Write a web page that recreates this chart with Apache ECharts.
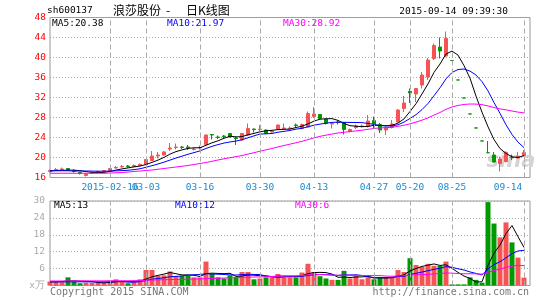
<!DOCTYPE html>
<html><head><meta charset="utf-8">
<script src="https://cdn.jsdelivr.net/npm/echarts@6/dist/echarts.min.js"></script>
<style>html,body{margin:0;padding:0;background:#fff}#c{width:545px;height:300px}</style>
</head><body><div id="c"></div>
<script>
const dates = ['2015-02-02','2015-02-03','2015-02-04','2015-02-05','2015-02-06','2015-02-09','2015-02-10','2015-02-11','2015-02-12','2015-02-13',
'2015-02-16','2015-02-17','2015-02-25','2015-02-26','2015-02-27','2015-03-02','2015-03-03','2015-03-04','2015-03-05','2015-03-06',
'2015-03-09','2015-03-10','2015-03-11','2015-03-12','2015-03-13','2015-03-16','2015-03-17','2015-03-18','2015-03-19','2015-03-20',
'2015-03-23','2015-03-24','2015-03-25','2015-03-26','2015-03-27','2015-03-30','2015-03-31','2015-04-01','2015-04-02','2015-04-03',
'2015-04-07','2015-04-08','2015-04-09','2015-04-10','2015-04-13','2015-04-14','2015-04-15','2015-04-16','2015-04-17','2015-04-20',
'2015-04-21','2015-04-22','2015-04-23','2015-04-24','2015-04-27','2015-04-28','2015-04-29','2015-04-30','2015-05-04','2015-05-05',
'2015-05-20','2015-05-21','2015-05-22','2015-05-25','2015-05-26','2015-05-27','2015-05-28','2015-08-25','2015-08-26','2015-08-27',
'2015-08-28','2015-08-31','2015-09-01','2015-09-02','2015-09-07','2015-09-08','2015-09-09','2015-09-10','2015-09-11','2015-09-14'];

const opens = [17.2,17.5,17.6,17.8,17.4,17.0,16.4,16.8,17.1,17.3,
17.4,17.9,18.1,18.3,18.2,18.4,18.6,19.4,20.3,20.5,
21.7,22.0,22.1,22.1,21.6,21.9,22.6,24.6,24.1,24.3,
24.8,23.9,23.5,24.5,25.7,25.6,25.5,25.1,25.7,25.8,
25.8,26.5,25.8,26.1,28.2,28.6,27.7,26.7,27.1,27.0,
25.2,26.0,26.2,26.2,27.4,26.6,25.5,26.0,27.1,29.8,
33.2,32.7,34.5,36.1,39.8,42.1,40.3,39.41,35.51,31.91,
28.71,25.91,23.31,20.96,20.5,18.8,19.2,20.0,19.9,20.4];
const closes = [17.4,17.6,17.7,17.5,17.2,16.8,16.7,17.0,17.2,17.4,
17.8,18.0,18.2,18.2,18.4,18.6,19.6,20.3,20.5,21.1,
21.9,22.1,22.0,22.0,21.7,22.0,24.5,24.5,24.0,24.2,
24.1,23.8,24.8,25.8,25.6,25.7,24.8,25.3,26.5,25.9,
25.9,26.4,26.6,28.8,28.7,27.8,26.8,26.8,27.0,25.6,
25.6,26.3,26.3,27.3,26.7,25.5,26.0,26.7,29.5,30.9,
32.9,33.8,36.5,39.5,42.4,41.3,43.8,39.4,35.5,31.9,
28.7,25.9,23.3,20.95,19.1,19.7,21.0,19.95,20.25,21.0];
const lows = [17.0,17.3,17.4,17.3,17.0,16.6,16.2,16.7,17.0,17.2,
17.3,17.8,18.0,18.0,18.1,18.3,18.5,19.3,19.8,20.4,
21.3,21.6,21.7,21.5,21.4,21.6,22.4,23.6,23.7,23.9,
24.0,22.5,23.3,24.3,25.0,25.3,24.7,25.0,25.6,25.5,
25.6,26.0,25.6,26.0,27.9,27.7,26.6,25.8,26.6,24.6,
25.0,25.7,26.0,26.0,25.9,24.9,24.5,25.8,27.0,29.1,
30.9,31.1,33.8,35.5,39.5,39.8,40.1,39.4,35.5,31.9,
28.7,25.9,23.3,20.95,19.0,17.2,19.0,19.5,19.8,20.2];
const highs = [17.6,17.9,18.0,17.9,17.6,17.1,16.8,17.1,17.4,17.5,
17.9,18.3,18.5,18.5,18.6,18.8,19.7,21.3,21.1,21.3,
22.9,22.8,22.3,22.5,22.0,22.4,24.6,24.7,24.4,24.5,
24.9,24.2,24.9,26.8,25.8,26.5,25.6,25.5,26.6,26.8,
26.2,26.8,26.8,29.2,30.1,28.7,27.8,27.0,27.4,27.1,
25.8,26.6,26.6,28.5,28.2,26.9,26.2,27.5,29.7,32.3,
33.8,33.9,37.1,39.9,42.8,44.0,45.2,39.41,35.51,31.91,
28.71,25.91,23.31,23.3,21.1,20.2,21.2,20.6,21.1,21.5];

const ma5 = [17.3,17.4,17.45,17.45,17.48,17.36,17.18,17.04,16.98,17.02,
17.22,17.48,17.72,17.92,18.12,18.28,18.6,19.02,19.48,20.02,
20.68,21.18,21.52,21.82,21.94,21.96,22.44,22.94,23.34,23.84,
24.26,24.12,24.18,24.54,24.82,25.14,25.34,25.44,25.58,25.64,
25.68,26.0,26.26,26.72,27.28,27.66,27.74,27.78,27.42,26.8,
26.36,26.26,26.16,26.22,26.44,26.42,26.36,26.44,26.88,27.72,
29.2,30.76,32.72,34.72,37.02,38.7,40.7,41.28,40.48,38.38,
35.86,32.28,29.06,26.15,23.59,21.79,20.81,20.14,20.0,20.38];
const ma10 = [17.35,17.35,17.35,17.35,17.3,17.3,17.3,17.28,17.26,17.25,
17.29,17.33,17.38,17.45,17.57,17.75,18.04,18.37,18.7,19.07,
19.48,19.89,20.27,20.65,20.98,21.32,21.81,22.23,22.58,22.89,
23.11,23.28,23.56,23.94,24.33,24.7,24.73,24.81,25.06,25.23,
25.41,25.67,25.85,26.15,26.46,26.67,26.87,27.02,27.07,27.04,
27.01,27.0,26.97,26.82,26.62,26.39,26.31,26.3,26.55,27.08,
27.81,28.56,29.58,30.8,32.37,33.95,35.73,37.0,37.6,37.7,
37.28,36.49,35.17,33.32,30.99,28.83,26.55,24.6,23.08,21.97];
const ma30 = [16.85,16.85,16.85,16.85,16.85,16.85,16.85,16.85,16.85,16.85,
16.9,16.95,17.0,17.1,17.2,17.3,17.4,17.5,17.65,17.8,
17.95,18.1,18.25,18.4,18.6,18.8,19.0,19.25,19.5,19.74,
19.96,20.17,20.4,20.68,20.96,21.26,21.53,21.8,22.11,22.4,
22.67,22.95,23.23,23.58,23.92,24.23,24.47,24.69,24.9,25.05,
25.18,25.32,25.46,25.64,25.8,25.92,25.97,26.04,26.23,26.45,
26.74,27.08,27.47,27.92,28.48,29.0,29.64,30.11,30.41,30.61,
30.7,30.68,30.57,30.31,29.99,29.72,29.53,29.3,29.08,28.92];

const volumes = [1.4,1.4,1.2,2.9,1.4,0.8,1.0,1.0,1.0,1.0,
1.4,2.2,1.4,0.8,1.4,2.2,5.5,5.5,3.4,3.6,
5.0,3.4,3.4,3.4,2.9,2.9,8.5,4.2,2.9,2.5,
3.6,2.9,4.8,4.8,2.2,2.5,2.9,2.9,4.1,2.9,
2.9,2.9,4.6,7.7,4.8,3.3,2.5,2.0,2.0,5.2,
2.5,3.4,2.2,2.9,2.2,2.9,2.9,2.9,5.5,4.8,
9.7,7.3,6.6,7.7,7.0,7.0,8.5,0.4,0.4,0.4,
2.9,2.0,1.0,29.6,22.0,17.1,22.4,15.3,9.9,2.8];
const volMa5 = [1.3,1.3,1.4,1.6,1.66,1.54,1.46,1.42,1.04,0.96,
1.08,1.32,1.4,1.36,1.44,1.6,2.26,3.08,3.6,4.04,
4.6,4.18,3.76,3.76,3.62,3.2,4.22,4.38,4.28,4.2,
4.34,3.22,3.34,3.72,3.66,3.44,3.44,3.06,2.92,3.06,
3.14,3.14,3.48,4.2,4.58,4.66,4.58,4.06,2.92,3.0,
2.84,3.02,3.06,3.24,2.64,2.72,2.62,2.76,3.28,3.8,
5.16,6.04,6.78,7.22,7.66,7.12,7.36,6.12,4.66,3.34,
2.52,1.22,1.34,7.18,11.5,14.34,18.42,21.28,17.34,13.5];
const volMa10 = [1.3,1.3,1.3,1.3,1.3,1.3,1.3,1.3,1.3,1.31,
1.31,1.39,1.41,1.2,1.2,1.34,1.79,2.24,2.48,2.74,
3.1,3.22,3.42,3.68,3.83,3.9,4.2,4.07,4.02,3.91,
3.77,3.72,3.86,4.0,3.93,3.89,3.33,3.2,3.32,3.36,
3.29,3.29,3.27,3.56,3.82,3.9,3.86,3.77,3.56,3.79,
3.75,3.8,3.56,3.08,2.82,2.78,2.82,2.91,3.26,3.22,
3.94,4.33,4.77,5.25,5.73,6.14,6.7,6.45,5.94,5.5,
4.82,4.29,3.73,5.92,7.42,8.43,9.82,11.31,12.26,12.5];
const volMa30 = [1.6,1.6,1.6,1.65,1.65,1.65,1.65,1.65,1.65,1.65,
1.7,1.7,1.7,1.7,1.7,1.75,1.85,1.95,2.0,2.05,
2.1,2.15,2.2,2.25,2.3,2.35,2.45,2.5,2.55,2.65,
2.73,2.78,2.9,2.96,2.99,3.04,3.11,3.17,3.27,3.34,
3.39,3.41,3.52,3.75,3.86,3.9,3.8,3.68,3.63,3.69,
3.6,3.6,3.56,3.55,3.52,3.52,3.34,3.29,3.38,3.46,
3.66,3.81,3.87,3.96,4.12,4.27,4.46,4.38,4.25,4.17,
4.17,4.14,4.02,4.75,5.32,5.78,6.45,6.89,7.15,7.07];

const tickDates = ['2015-02-16','2015-03-03','2015-03-16','2015-03-30','2015-04-13','2015-04-27','2015-05-20','2015-08-25','2015-09-14'];
const priceMALabels = ['MA5:20.38','MA10:21.97','MA30:28.92'];
const volMALabels = ['MA5:13','MA10:12','MA30:6'];

const RED = '#f65454', GREEN = '#009900';
const MONO = '"DejaVu Sans Mono", monospace';
const XLBL = '#1a8ad4';

const cats = dates.concat(['']);
const candleData = dates.map((d, i) => [opens[i], closes[i], lows[i], highs[i]]);
function sign(i) {
  if (closes[i] > opens[i]) return 1;
  if (closes[i] < opens[i]) return -1;
  return (i > 0 && closes[i] < closes[i - 1]) ? -1 : 1;
}
const volData = volumes.map((v, i) => ({ value: v, itemStyle: { color: sign(i) > 0 ? RED : GREEN } }));

const hGrid = { show: true, lineStyle: { color: '#aaa', width: 1, type: [1, 2] } };

function lineS(data, color, xi, yi) {
  return { type: 'line', data: data, xAxisIndex: xi, yAxisIndex: yi, showSymbol: false, symbol: 'none',
    lineStyle: { color: color, width: 1 }, itemStyle: { color: color }, silent: true, z: 3, clip: false };
}
// vertical dashed grid lines at the labelled dates, drawn as markLines behind the marks
function vLines(data, xi, yi) {
  return { type: 'line', data: data, xAxisIndex: xi, yAxisIndex: yi, showSymbol: false, symbol: 'none', silent: true, z: 1,
    lineStyle: { opacity: 0 }, itemStyle: { opacity: 0 },
    markLine: { silent: true, symbol: 'none', animation: false, label: { show: false },
      lineStyle: { color: '#aaa', width: 1, type: [5, 3] },
      data: tickDates.map(d => ({ xAxis: d })) } };
}
function txt(x, y, s, color, font, align) {
  return { type: 'text', x: x, y: y, z: 10, style: { text: s, fill: color, font: font, align: align || 'left', verticalAlign: 'middle' } };
}
function fmtX(v) {
  if (tickDates.indexOf(v) < 0) return '';
  if (v === tickDates[0]) return v;
  if (v === tickDates[tickDates.length - 1]) return '{r|' + v.slice(5) + '}';
  return v.slice(5);
}

const chart = echarts.init(document.getElementById('c'), null, { renderer: 'canvas', width: 545, height: 300 });
chart.setOption({
  animation: false,
  backgroundColor: '#fff',
  grid: [
    { left: 50, top: 17.5, width: 480, height: 160, show: true, borderColor: '#999', borderWidth: 1, backgroundColor: 'transparent' },
    { left: 50, top: 201, width: 480, height: 84.5, show: true, borderColor: '#999', borderWidth: 1, backgroundColor: 'transparent' }
  ],
  xAxis: [
    { type: 'category', gridIndex: 0, data: cats, boundaryGap: false,
      axisLine: { show: false }, axisTick: { show: false },
      axisLabel: { interval: 0, hideOverlap: false, showMinLabel: true, showMaxLabel: true,
        color: XLBL, fontFamily: MONO, fontSize: 9.5, margin: 5, formatter: fmtX,
        rich: { r: { color: XLBL, fontFamily: MONO, fontSize: 9.5, padding: [0, 32, 0, 0] } } },
      splitLine: { show: false } },
    { type: 'category', gridIndex: 1, data: cats, boundaryGap: false,
      axisLine: { show: false }, axisTick: { show: false }, axisLabel: { show: false },
      splitLine: { show: false } }
  ],
  yAxis: [
    { type: 'value', gridIndex: 0, min: 16, max: 48, interval: 4,
      axisLine: { show: false }, axisTick: { show: false },
      axisLabel: { color: '#f00', fontFamily: MONO, fontSize: 9.5, margin: 4 },
      splitLine: hGrid },
    { type: 'value', gridIndex: 1, min: 0, max: 30, interval: 6,
      axisLine: { show: false }, axisTick: { show: false },
      axisLabel: { color: '#aaa', fontFamily: MONO, fontSize: 9.5, margin: 5, formatter: v => v === 0 ? 'x万' : String(v) },
      splitLine: hGrid }
  ],
  series: [
    vLines(ma30, 0, 0),
    vLines(volMa30, 1, 1),
    { type: 'candlestick', xAxisIndex: 0, yAxisIndex: 0, data: candleData, barWidth: 4, clip: false, z: 2,
      itemStyle: { color: RED, color0: GREEN, borderColor: RED, borderColor0: GREEN, borderWidth: 1 } },
    lineS(ma5, '#000', 0, 0),
    lineS(ma10, '#0000ff', 0, 0),
    lineS(ma30, '#ff00ff', 0, 0),
    { type: 'bar', xAxisIndex: 1, yAxisIndex: 1, data: volData, barWidth: 5, z: 2 },
    lineS(volMa5, '#000', 1, 1),
    lineS(volMa10, '#0000ff', 1, 1),
    lineS(volMa30, '#ff00ff', 1, 1)
  ],
  graphic: [
    { type: 'text', x: 511, y: 162, z: 0, style: { text: 'sina', fill: '#d4d4d4', font: 'italic bold 21px "DejaVu Sans", sans-serif', align: 'center', verticalAlign: 'middle' } },
    txt(47, 11, 'sh600137', '#000', '9.5px ' + MONO),
    txt(113, 10, '浪莎股份', '#000', '12px "Noto Sans CJK SC"'),
    txt(166, 10, '-', '#000', '12px "Noto Sans CJK SC"'),
    txt(186, 10, '日K线图', '#000', '12px "Noto Sans CJK SC"'),
    txt(508, 11.5, '2015-09-14 09:39:30', '#000', '9.5px ' + MONO, 'right'),
    txt(52, 23.7, priceMALabels[0], '#000', '9.5px ' + MONO),
    txt(167, 23.7, priceMALabels[1], '#0000ff', '9.5px ' + MONO),
    txt(283, 23.7, priceMALabels[2], '#ff00ff', '9.5px ' + MONO),
    txt(54, 206, volMALabels[0], '#000', '9.5px ' + MONO),
    txt(175, 206, volMALabels[1], '#0000ff', '9.5px ' + MONO),
    txt(295, 206, volMALabels[2], '#ff00ff', '9.5px ' + MONO),
    txt(50, 292.5, 'Copyright 2015 SINA.COM', '#777', '10px ' + MONO),
    txt(529, 292.5, 'http://finance.sina.com.cn', '#777', '10px ' + MONO, 'right')
  ]
});
</script></body></html>
